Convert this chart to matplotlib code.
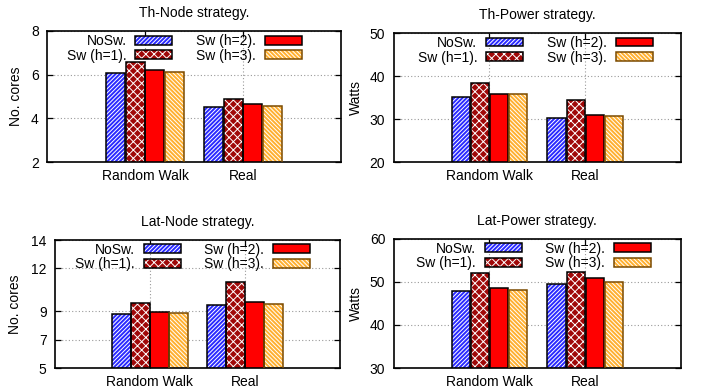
import matplotlib

matplotlib.use("Agg")
import matplotlib.pyplot as plt  # noqa: E402
import numpy as np  # noqa: E402
from matplotlib.legend_handler import HandlerTuple  # noqa: E402
from matplotlib.patches import Patch  # noqa: E402

# ------------------------------------------------------------------ data
groups = ["Random Walk", "Real"]
series = ["NoSw.", "Sw (h=1).", "Sw (h=2).", "Sw (h=3)."]

# rows: groups, columns: series
th_node = [[6.07, 6.57, 6.19, 6.10], [4.53, 4.88, 4.68, 4.55]]
th_power = [[35.2, 38.5, 35.9, 36.0], [30.3, 34.6, 31.0, 30.7]]
lat_node = [[8.82, 9.58, 8.95, 8.88], [9.44, 11.03, 9.62, 9.53]]
lat_power = [[47.8, 52.0, 48.5, 48.2], [49.4, 52.2, 50.9, 49.9]]

face_colors = ["#2a2aff", "#a00808", "#ff0000", "#ffb030"]
hatches = ["////////", "xxxx", None, "\\\\\\\\\\\\\\\\"]
edge_colors = ["#000000", "#000000", "#000000", "#7a4a00"]

plt.rcParams["font.family"] = ["Liberation Sans", "DejaVu Sans"]
plt.rcParams["hatch.linewidth"] = 0.7

W, H = 702, 391


def rect(left, top, right, bottom):
    """pixel box -> figure fraction [l, b, w, h]"""
    return [left / W, 1 - bottom / H, (right - left) / W, (bottom - top) / H]


panels = [
    # title, ylabel, data, ylim, yticks, box, ylabel_x, legend anchor
    ("Th-Node strategy.", "No. cores", th_node, (2, 8), [2, 4, 6, 8],
     rect(47, 30.7, 341, 162.3), -0.082, (0.867, 0.975)),
    ("Th-Power strategy.", "Watts", th_power, (20, 50), [20, 30, 40, 50],
     rect(393.7, 33.3, 681, 162.3), -0.108, (0.901, 0.980)),
    ("Lat-Node strategy.", "No. cores", lat_node, (5, 14), [5, 7, 9, 12, 14],
     rect(55, 240, 340, 368), -0.116, (0.895, 0.980)),
    ("Lat-Power strategy.", "Watts", lat_power, (30, 60), [30, 40, 50, 60],
     rect(393.7, 238.7, 681, 368), -0.108, (0.896, 0.978)),
]

fig = plt.figure(figsize=(W / 100, H / 100), dpi=100)

x = np.arange(len(groups))
offsets = [-0.3, -0.1, 0.1, 0.3]
width = 0.19

for title, ylabel, data, ylim, yticks, box, ylab_x, anchor in panels:
    ax = fig.add_axes(box)
    vals = np.asarray(data)
    handles = []
    for i in range(len(series)):
        # fill + white hatch first, coloured outline on top
        ax.bar(x + offsets[i], vals[:, i], width,
               color=face_colors[i], hatch=hatches[i], edgecolor="white",
               linewidth=0, zorder=2)
        ax.bar(x + offsets[i], vals[:, i], width, fill=False,
               edgecolor=edge_colors[i], linewidth=1.1, zorder=3)
        handles.append((
            Patch(facecolor=face_colors[i], hatch=hatches[i],
                  edgecolor="white", linewidth=0),
            Patch(fill=False, edgecolor=edge_colors[i], linewidth=1.1),
        ))

    ax.set_xlim(-1, 2)
    ax.set_ylim(*ylim)
    ax.set_xticks(x)
    ax.set_xticklabels(groups, fontsize=10)
    ax.set_yticks(yticks)
    ax.tick_params(axis="y", labelsize=10, pad=6)
    ax.tick_params(axis="x", pad=5)
    ax.tick_params(direction="in", top=True, right=True, length=4, width=0.9)
    ax.grid(True, color="#9a9a9a", linestyle=(0, (1, 2)), linewidth=0.8)
    ax.set_axisbelow(True)
    for s in ax.spines.values():
        s.set_linewidth(1.2)

    ax.set_title(title, fontsize=10, pad=10)
    ax.set_ylabel(ylabel, fontsize=10)
    ax.yaxis.set_label_coords(ylab_x, 0.5)

    ax.legend(handles, series, handler_map={tuple: HandlerTuple(ndivide=1)},
              ncol=2, markerfirst=False, frameon=False, fontsize=10,
              loc="upper right", bbox_to_anchor=anchor, borderpad=0,
              borderaxespad=0, handlelength=2.66, handleheight=0.6,
              handletextpad=0.65, columnspacing=1.7, labelspacing=0.05)

fig.savefig("out.png", dpi=100)
